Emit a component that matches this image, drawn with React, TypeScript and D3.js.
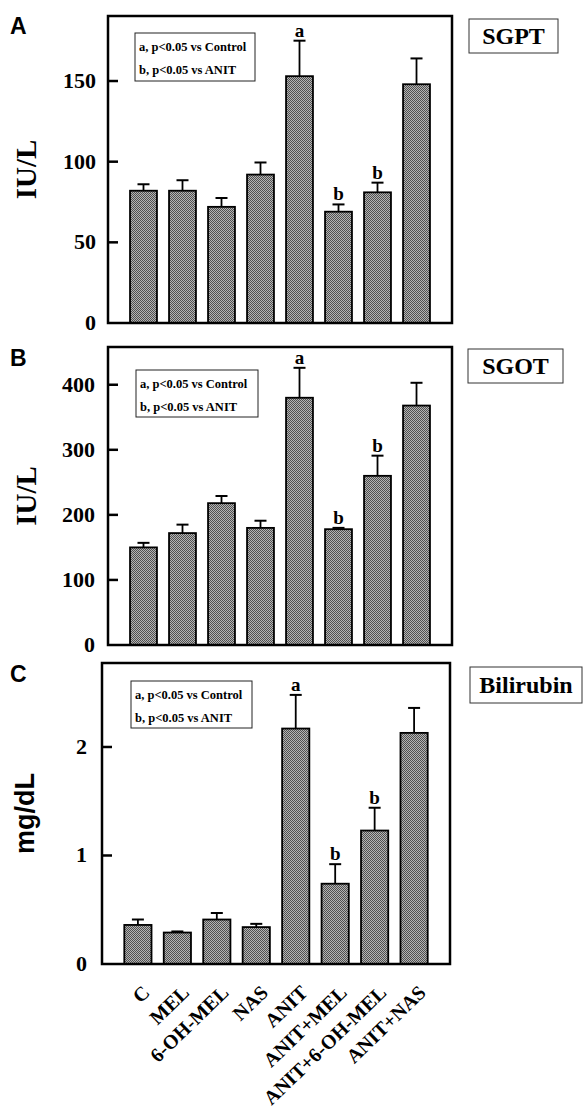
import React from "react";
import * as d3 from "d3";

const categories = ["C", "MEL", "6-OH-MEL", "NAS", "ANIT", "ANIT+MEL", "ANIT+6-OH-MEL", "ANIT+NAS"];

const sgptMean = [82, 82, 72, 92, 153, 69, 81, 148];
const sgptErr = [4, 6.5, 5.5, 7.5, 22, 4.5, 6, 16];
const sgptSig = ["", "", "", "", "a", "b", "b", ""];
const sgptTicks = [0, 50, 100, 150];

const sgotMean = [150, 172, 218, 180, 380, 178, 260, 368];
const sgotErr = [7, 13, 11, 11, 46, 2, 31, 35];
const sgotSig = ["", "", "", "", "a", "b", "b", ""];
const sgotTicks = [0, 100, 200, 300, 400];

const biliMean = [0.36, 0.29, 0.41, 0.34, 2.17, 0.74, 1.23, 2.13];
const biliErr = [0.05, 0.01, 0.06, 0.03, 0.31, 0.18, 0.21, 0.23];
const biliSig = ["", "", "", "", "a", "b", "b", ""];
const biliTicks = [0, 1, 2];

const legendLines = ["a, p<0.05 vs Control", "b, p<0.05 vs ANIT"];

const SERIF = "'Liberation Serif', 'Times New Roman', serif";
const SANS = "'Liberation Sans', Arial, sans-serif";

type PanelProps = {
  letter: string;
  letterY: number;
  left: number;
  right: number;
  top: number;
  bottom: number;
  yMax: number;
  ticks: number[];
  mean: number[];
  err: number[];
  sig: string[];
  title: string;
  titleBox: [number, number, number, number];
  legend: [number, number, number, number];
  yLabel: string;
  yLabelSans: boolean;
  yLabelX: number;
  tickGap: number;
  showX: boolean;
};

function Panel(p: PanelProps) {
  const x = d3
    .scaleBand<string>()
    .domain(categories)
    .range([p.left, p.right])
    .paddingInner(0.31)
    .paddingOuter(0.565);
  const y = d3.scaleLinear().domain([0, p.yMax]).range([p.bottom, p.top]);
  const bw = x.bandwidth();
  const [tbx, tby, tbw, tbh] = p.titleBox;
  const [lx, ly, lw, lh] = p.legend;
  const midY = (p.top + p.bottom) / 2;
  return (
    <g>
      <text x={10} y={p.letterY} fontFamily={SANS} fontWeight="bold" fontSize={23}>
        {p.letter}
      </text>
      {categories.map((c, i) => {
        const cx = (x(c) as number) + bw / 2;
        const yt = y(p.mean[i]);
        const ye = y(p.mean[i] + p.err[i]);
        return (
          <g key={c}>
            <line x1={cx} x2={cx} y1={yt} y2={ye} stroke="#000" strokeWidth={1.8} />
            <line x1={cx - 6} x2={cx + 6} y1={ye} y2={ye} stroke="#000" strokeWidth={2} />
            <rect
              x={x(c) as number}
              y={yt}
              width={bw}
              height={p.bottom - yt}
              fill="url(#stip)"
              stroke="#000"
              strokeWidth={1.8}
            />
            {p.sig[i] && (
              <text
                x={cx}
                y={ye - 4}
                textAnchor="middle"
                fontFamily={SERIF}
                fontWeight="bold"
                fontSize={19}
              >
                {p.sig[i]}
              </text>
            )}
          </g>
        );
      })}
      <rect
        x={p.left}
        y={p.top}
        width={p.right - p.left}
        height={p.bottom - p.top}
        fill="none"
        stroke="#000"
        strokeWidth={2.5}
      />
      {p.ticks.map((t) => (
        <g key={t}>
          {t !== 0 && (
            <line x1={p.left} x2={p.left + 10} y1={y(t)} y2={y(t)} stroke="#000" strokeWidth={2.5} />
          )}
          <text
            x={p.left - p.tickGap}
            y={y(t) + 7}
            textAnchor="end"
            fontFamily={SERIF}
            fontWeight="bold"
            fontSize={22}
          >
            {t}
          </text>
        </g>
      ))}
      <text
        transform={`translate(${p.yLabelX},${midY}) rotate(-90)`}
        textAnchor="middle"
        fontFamily={p.yLabelSans ? SANS : SERIF}
        fontWeight="bold"
        fontSize={p.yLabelSans ? 27 : 29}
      >
        {p.yLabel}
      </text>
      <rect x={lx} y={ly} width={lw} height={lh} fill="#fff" stroke="#222" strokeWidth={1} />
      {legendLines.map((l, i) => (
        <text
          key={l}
          x={lx + 4}
          y={ly + 18 + i * 23}
          fontFamily={SERIF}
          fontWeight="bold"
          fontSize={12.5}
        >
          {l}
        </text>
      ))}
      <rect x={tbx} y={tby} width={tbw} height={tbh} fill="#fff" stroke="#333" strokeWidth={1} />
      <text
        x={tbx + tbw / 2}
        y={tby + tbh / 2 + 8}
        textAnchor="middle"
        fontFamily={SERIF}
        fontWeight="bold"
        fontSize={24}
      >
        {p.title}
      </text>
      {p.showX &&
        categories.map((c) => {
          const cx = (x(c) as number) + bw / 2;
          return (
            <text
              key={c}
              transform={`translate(${cx + 13},${p.bottom + 30}) rotate(-44)`}
              textAnchor="end"
              fontFamily={SERIF}
              fontWeight="bold"
              fontSize={20}
            >
              {c}
            </text>
          );
        })}
    </g>
  );
}

export default function App() {
  return (
    <svg
      width={583}
      height={1110}
      style={{ position: "absolute", left: 0, top: 0, background: "#fff" }}
    >
      <defs>
        <pattern id="stip" width={2} height={2} patternUnits="userSpaceOnUse">
          <rect x={0} y={0} width={2} height={2} fill="#b4b4b4" />
          <rect x={0} y={0} width={1} height={1} fill="#505050" />
          <rect x={1} y={1} width={1} height={1} fill="#505050" />
        </pattern>
      </defs>
      <rect x={0} y={0} width={583} height={1110} fill="#fff" />
      <Panel
        letter="A"
        letterY={34}
        left={108}
        right={452}
        top={16}
        bottom={323}
        yMax={190.3}
        ticks={sgptTicks}
        mean={sgptMean}
        err={sgptErr}
        sig={sgptSig}
        title="SGPT"
        titleBox={[469, 19, 89, 34]}
        legend={[135, 33, 120, 48]}
        yLabel="IU/L"
        yLabelSans={false}
        yLabelX={36}
        tickGap={12}
        showX={false}
      />
      <Panel
        letter="B"
        letterY={366}
        left={108}
        right={452}
        top={347}
        bottom={645}
        yMax={458}
        ticks={sgotTicks}
        mean={sgotMean}
        err={sgotErr}
        sig={sgotSig}
        title="SGOT"
        titleBox={[468, 349, 95, 34]}
        legend={[136, 370, 122, 47]}
        yLabel="IU/L"
        yLabelSans={false}
        yLabelX={36}
        tickGap={13}
        showX={false}
      />
      <Panel
        letter="C"
        letterY={682}
        left={102}
        right={450}
        top={663}
        bottom={964}
        yMax={2.774}
        ticks={biliTicks}
        mean={biliMean}
        err={biliErr}
        sig={biliSig}
        title="Bilirubin"
        titleBox={[470, 667, 112, 36]}
        legend={[131, 681, 121, 47]}
        yLabel="mg/dL"
        yLabelSans={true}
        yLabelX={34}
        tickGap={15}
        showX={true}
      />
    </svg>
  );
}
